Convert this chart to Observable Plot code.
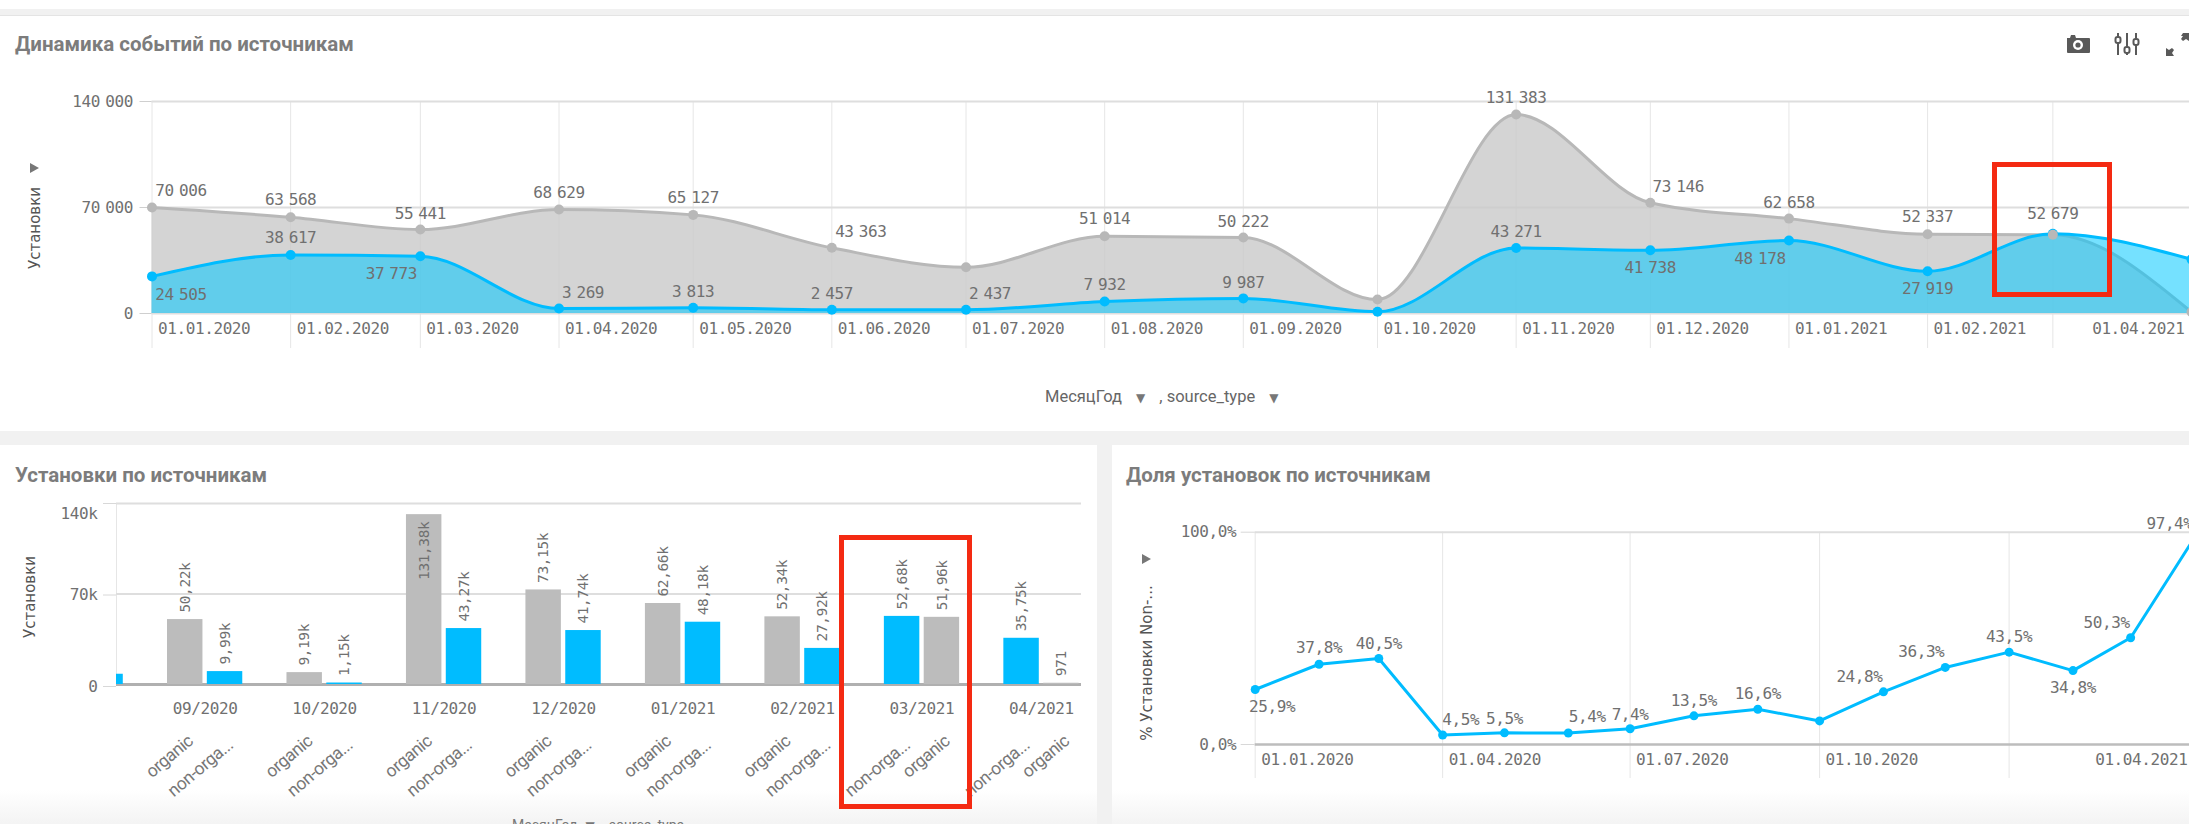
<!DOCTYPE html>
<html lang="ru">
<head>
<meta charset="utf-8">
<script src="https://cdn.jsdelivr.net/npm/d3@7"></script>
<script src="https://cdn.jsdelivr.net/npm/@observablehq/plot@0.6"></script>
<style>
html,body{margin:0;padding:0;width:2189px;height:824px;overflow:hidden;background:#f1f1f1;}
.abs{position:absolute;}
.panel{position:absolute;background:#fff;}
.fade{position:absolute;height:36px;background:linear-gradient(#ffffff,#f3f3f3);}
.title{position:absolute;font:700 20.5px Roboto,sans-serif;color:#7c7c7c;white-space:nowrap;}
.ytitle{position:absolute;font:15px "DejaVu Sans",sans-serif;color:#555;white-space:nowrap;transform:translate(-50%,-50%) rotate(-90deg);}
.legend{position:absolute;font:16.5px Roboto,sans-serif;color:#666;white-space:pre;}
.legend span{font-size:12px;color:#777;font-family:"DejaVu Sans",sans-serif;margin:0 14px;}
.tri{position:absolute;width:0;height:0;border-left:9px solid #777;border-top:5.5px solid transparent;border-bottom:5.5px solid transparent;}
.red{position:absolute;border:5px solid #f42a12;box-sizing:border-box;}
figure,svg{display:block;margin:0;}
</style>
</head>
<body>
<script>
// ---------- data ----------
const monthStarts = ["2020-01-01","2020-02-01","2020-03-01","2020-04-01","2020-05-01","2020-06-01","2020-07-01","2020-08-01","2020-09-01","2020-10-01","2020-11-01","2020-12-01","2021-01-01","2021-02-01","2021-03-01","2021-04-01"];
const organicInstalls = [70006,63568,55441,68629,65127,43363,30500,51014,50222,9190,131383,73146,62658,52337,51960,971];
const nonOrganicInstalls = [24505,38617,37773,3269,3813,2457,2437,7932,9987,1150,43271,41738,48178,27919,52679,35752];
const nonOrganicShare = [25.9,37.8,40.5,4.5,5.5,5.4,7.4,13.5,16.6,11.1,24.8,36.3,43.5,34.8,50.3,97.4];
const topTickDates = ["2020-01-01","2020-02-01","2020-03-01","2020-04-01","2020-05-01","2020-06-01","2020-07-01","2020-08-01","2020-09-01","2020-10-01","2020-11-01","2020-12-01","2021-01-01","2021-02-01"];
const shareTickDates = ["2020-01-01","2020-04-01","2020-07-01","2020-10-01"];
const lastTickDate = "2021-04-01";
const barMonthIndexes = [8,9,10,11,12,13,14,15];
const nonOrganicFirstMonths = [14,15];
const clippedBarMonthIndex = 7;

// label placement only: offsets of each point label from its point, [dx, dy] in px
const organicLabelOffsets = {0:[29,-17],1:[0,-17],2:[0,-16],3:[0,-17],4:[0,-17],5:[29,-16],7:[0,-17],8:[0,-16],10:[0,-17],11:[28,-16],12:[0,-16],13:[0,-17]};
const nonOrganicLabelOffsets = {0:[29,18],1:[0,-17],2:[-29,18],3:[24,-16],4:[0,-16],5:[0,-16],6:[24,-16],7:[0,-17],8:[0,-16],10:[0,-16],11:[0,18],12:[-29,18],13:[0,18],14:[0,-20]};
const shareLabelOffsets = {0:[17,17],1:[0,-16],2:[0,-15],3:[18,-15],4:[0,-14],5:[19,-16],6:[0,-14],7:[0,-15],8:[0,-15],10:[-24,-15],11:[-24,-16],12:[0,-15],13:[0,17],14:[-24,-15],15:[-25,-14]};

// ---------- shared helpers ----------
const date = s => new Date(s + "T00:00:00Z");
const months = monthStarts.map(date);
const ruLocale = d3.formatLocale({decimal:",",thousands:" ",grouping:[3],currency:["","₽"]});
const fmtInt = ruLocale.format(",d");
const fmtDate = d3.utcFormat("%d.%m.%Y");
const fmtMonth = d3.utcFormat("%m/%Y");
const fmtK = v => v < 1000 ? String(v) : (v/1000).toFixed(2).replace(".", ",") + "k";
const fmtPct = v => v.toFixed(1).replace(".", ",") + "%";

const BLUE = "#00bcff", GREY_LINE = "#b8b8b8", GRID = "#e6e6e6", HGRID = "#dedede", TXT = "#707070";
const rootStyle = {fontFamily:'"DejaVu Sans Mono",monospace',fontSize:"16px",letterSpacing:"-0.4px",wordSpacing:"-4px",background:"transparent",color:TXT,overflow:"hidden"};

function place(node,left,top){node.style.position="absolute";node.style.left=left+"px";node.style.top=top+"px";document.body.appendChild(node);return node;}
function div(cls,css,text){const d=document.createElement("div");d.className=cls;Object.assign(d.style,css);if(text!=null)d.textContent=text;document.body.appendChild(d);return d;}
function pointLabels(rows,offsets,fmt,yKey){
  return Object.entries(offsets).map(([i,[dx,dy]]) => Plot.text([rows[+i]],{x:"date",y:yKey,text:d=>fmt(d[yKey]),dx,dy,fill:TXT}));
}

// ---------- page chrome ----------
div("abs",{left:"0",top:"0",width:"2189px",height:"9px",background:"#fff"});
div("panel",{left:"0",top:"15px",width:"2189px",height:"415px",borderTop:"1px solid #e4e4e4"});
div("panel",{left:"0",top:"445px",width:"1097px",height:"379px"});
div("panel",{left:"1112px",top:"445px",width:"1077px",height:"379px"});
div("fade",{left:"0",top:"790px",width:"1097px"});
div("fade",{left:"1112px",top:"790px",width:"1077px"});

div("title",{left:"15px",top:"32px"},"Динамика событий по источникам");
div("title",{left:"15px",top:"463px"},"Установки по источникам");
div("title",{left:"1126px",top:"463px"},"Доля установок по источникам");

// ---------- top chart ----------
const topRows = months.map((d,i)=>({date:d,organic:organicInstalls[i],nonOrganic:nonOrganicInstalls[i]}));
const topGridDates = [...topTickDates,"2021-03-01",lastTickDate].map(date);
const topPlot = Plot.plot({
  width:2189,height:416,marginLeft:151.5,marginRight:0,marginTop:87,marginBottom:117,
  style:rootStyle,
  x:{type:"utc",domain:[months[0],months[15]],range:[151.5,2191]},
  y:{domain:[0,140000]},
  marks:[
    Plot.ruleX(topGridDates,{stroke:GRID,insetBottom:-35}),
    Plot.ruleY([70000,140000],{stroke:HGRID,strokeWidth:2}),
    Plot.ruleY([0],{stroke:HGRID,strokeWidth:2}),
    Plot.axisY({ticks:[0,70000,140000],tickFormat:fmtInt,tickSize:12,tickPadding:7,label:null,stroke:"#cfcfcf",fill:TXT}),
    Plot.axisX({ticks:topTickDates.map(date),tickFormat:fmtDate,tickSize:0,tickPadding:9,textAnchor:"start",dx:6,label:null,fill:TXT}),
    Plot.axisX({ticks:[date(lastTickDate)],tickFormat:fmtDate,tickSize:0,tickPadding:9,textAnchor:"end",dx:-7,label:null,fill:TXT}),
    Plot.areaY(topRows,{x:"date",y:"organic",curve:"monotone-x",fill:"#c9c9c9",fillOpacity:.8}),
    Plot.lineY(topRows,{x:"date",y:"organic",curve:"monotone-x",stroke:GREY_LINE,strokeWidth:3}),
    Plot.areaY(topRows,{x:"date",y:"nonOrganic",curve:"monotone-x",fill:"#00c8ff",fillOpacity:.54}),
    Plot.lineY(topRows,{x:"date",y:"nonOrganic",curve:"monotone-x",stroke:BLUE,strokeWidth:3}),
    Plot.dot(topRows,{x:"date",y:"nonOrganic",r:5,fill:BLUE}),
    Plot.dot(topRows,{x:"date",y:"organic",r:5,fill:GREY_LINE}),
    ...pointLabels(topRows,organicLabelOffsets,fmtInt,"organic"),
    ...pointLabels(topRows,nonOrganicLabelOffsets,fmtInt,"nonOrganic")
  ]
});
place(topPlot,0,14);

div("ytitle",{left:"35px",top:"228px"},"Установки");
div("tri",{left:"30px",top:"163px"});
div("legend",{left:"1045px",top:"387px"}).innerHTML = 'МесяцГод<span>▼</span>, source_type<span>▼</span>';

// ---------- bottom-left: bars ----------
const slots = [];
const keyOf = (i,t) => fmtMonth(months[i]) + "|" + t;
slots.push(keyOf(clippedBarMonthIndex,"non-organic"), "gap" + clippedBarMonthIndex);
barMonthIndexes.forEach((i,n)=>{
  const order = nonOrganicFirstMonths.includes(i) ? ["non-organic","organic"] : ["organic","non-organic"];
  order.forEach(t=>slots.push(keyOf(i,t)));
  if(n < barMonthIndexes.length-1) slots.push("gap"+i);
});
const barRows = barMonthIndexes.flatMap(i=>{
  const order = nonOrganicFirstMonths.includes(i) ? ["non-organic","organic"] : ["organic","non-organic"];
  return order.map((t,pos)=>({key:keyOf(i,t),type:t,pos,month:fmtMonth(months[i]),value:t==="organic"?organicInstalls[i]:nonOrganicInstalls[i]}));
});
const clippedRow = {key:keyOf(clippedBarMonthIndex,"non-organic"),type:"non-organic",value:nonOrganicInstalls[clippedBarMonthIndex]};
const bigBar = 100000;
const barPlot = Plot.plot({
  width:1081,height:379,marginLeft:116,marginRight:0,marginTop:58,marginBottom:140,
  style:rootStyle,
  x:{type:"band",domain:slots,range:[82.96,1083],padding:.11,align:.5,round:false,axis:null},
  y:{domain:[0,140000]},
  marks:[
    Plot.frame({anchor:"left",stroke:GRID}),
    Plot.ruleY([70000,140000],{stroke:HGRID,strokeWidth:2}),
    Plot.ruleY([0],{stroke:"#b0b0b0",strokeWidth:3}),
    Plot.axisY({ticks:[0],tickFormat:v=>v,tickSize:13,tickPadding:6,dy:2,label:null,stroke:"#d8d8d8",fill:TXT}),
    Plot.axisY({ticks:[70000],tickFormat:v=>(v/1000)+"k",tickSize:13,tickPadding:6,dy:1,label:null,stroke:"#d8d8d8",fill:TXT}),
    Plot.axisY({ticks:[140000],tickFormat:v=>(v/1000)+"k",tickSize:13,tickPadding:6,dy:10,label:null,stroke:"none",fill:TXT}),
    Plot.ruleY([140000],{stroke:"#d8d8d8",strokeWidth:1,insetLeft:-13,insetRight:1081-116}),
    Plot.barY(barRows.filter(d=>d.type==="organic"),{x:"key",y:"value",fill:"#bcbcbc"}),
    Plot.barY(barRows.filter(d=>d.type!=="organic"),{x:"key",y:"value",fill:BLUE}),
    Plot.barY([clippedRow],{x:"key",y:"value",fill:BLUE,clip:true}),
    Plot.text(barRows.filter(d=>d.value<bigBar),{x:"key",y:"value",text:d=>fmtK(d.value),rotate:-90,textAnchor:"start",dy:-7,fontSize:14.5,fill:TXT}),
    Plot.text(barRows.filter(d=>d.value>=bigBar),{x:"key",y:"value",text:d=>fmtK(d.value),rotate:-90,textAnchor:"end",dy:7,fontSize:14.5,fill:TXT}),
    Plot.text(barRows.filter(d=>d.pos===1),{x:"key",y:()=>0,text:"month",dx:-20,dy:24,fill:TXT}),
    Plot.text(barRows.filter(d=>d.type==="organic"),{x:"key",y:()=>0,text:()=>"organic",rotate:-40,textAnchor:"end",dx:5.5,dy:54,fontFamily:"Roboto,sans-serif",fontSize:17.5,fill:"#777"}),
    Plot.text(barRows.filter(d=>d.type!=="organic"),{x:"key",y:()=>0,text:()=>"non-orga...",rotate:-40,textAnchor:"end",dx:5.5,dy:58,fontFamily:"Roboto,sans-serif",fontSize:17.5,fill:"#777"})
  ]
});
place(barPlot,0,445);
div("ytitle",{left:"30px",top:"597px"},"Установки");
div("legend",{left:"512px",top:"817px",color:"#777",fontSize:"14px"}).innerHTML = 'МесяцГод<span style="margin:0 8px">▼</span>, source_type';

// ---------- bottom-right: share line ----------
const shareRows = months.map((d,i)=>({date:d,share:nonOrganicShare[i]}));
const shareGridDates = [...shareTickDates,"2021-01-01"].map(date);
const sharePlot = Plot.plot({
  width:1077,height:379,marginLeft:142.7,marginRight:0,marginTop:86.7,marginBottom:80,
  style:rootStyle,
  x:{type:"utc",domain:[months[0],months[15]],range:[142.7,1082]},
  y:{domain:[0,100]},
  marks:[
    Plot.ruleX(shareGridDates,{stroke:GRID,insetBottom:-34}),
    Plot.ruleY([100],{stroke:HGRID,strokeWidth:2}),
    Plot.ruleY([0],{stroke:"#bdbdbd",strokeWidth:2.5}),
    Plot.axisY({ticks:[0,100],tickFormat:fmtPct,tickSize:14,tickPadding:5,label:null,stroke:"#d8d8d8",fill:TXT}),
    Plot.axisX({ticks:shareTickDates.map(date),tickFormat:fmtDate,tickSize:0,tickPadding:9,textAnchor:"start",dx:6,label:null,fill:TXT}),
    Plot.axisX({ticks:[date(lastTickDate)],tickFormat:fmtDate,tickSize:0,tickPadding:9,textAnchor:"end",dx:-7,label:null,fill:TXT}),
    Plot.lineY(shareRows,{x:"date",y:"share",stroke:BLUE,strokeWidth:3}),
    Plot.dot(shareRows,{x:"date",y:"share",r:4.5,fill:BLUE}),
    ...pointLabels(shareRows,shareLabelOffsets,fmtPct,"share")
  ]
});
place(sharePlot,1112,445);
div("ytitle",{left:"1147px",top:"663px"},"% Установки Non-...");
div("tri",{left:"1142px",top:"554px"});

// ---------- annotations and toolbar ----------
div("red",{left:"1992px",top:"162px",width:"120px",height:"135px"});
div("red",{left:"839px",top:"535px",width:"133px",height:"274px"});

const icons = document.createElementNS("http://www.w3.org/2000/svg","svg");
icons.setAttribute("width","130");icons.setAttribute("height","34");icons.setAttribute("viewBox","2060 28 130 34");
icons.style.cssText="position:absolute;left:2060px;top:28px;";
icons.innerHTML = `
<path fill="#595959" d="M2067 38h3l1-3h4l1 3h13a1 1 0 0 1 1 1v13a1 1 0 0 1-1 1h-21a1 1 0 0 1-1-1z"/>
<circle cx="2078" cy="45" r="5" fill="#fff"/><circle cx="2078" cy="45" r="2.6" fill="#595959"/>
<g stroke="#595959" stroke-width="2" fill="#fff">
<line x1="2118" y1="33" x2="2118" y2="55"/><line x1="2127" y1="33" x2="2127" y2="55"/><line x1="2136" y1="33" x2="2136" y2="55"/>
<rect x="2115.5" y="37" width="5" height="6" rx="2"/><rect x="2124.5" y="47" width="5" height="6" rx="2"/><rect x="2133.5" y="39" width="5" height="6" rx="2"/></g>
<g fill="#595959"><path d="M2166 48l3 2 3-2 2 2-2 3 2 3h-8z"/><path d="M2181 36l2-3h6v8l-3-2-3 2-2-2 2-3z"/></g>`;
document.body.appendChild(icons);
</script>
</body>
</html>
